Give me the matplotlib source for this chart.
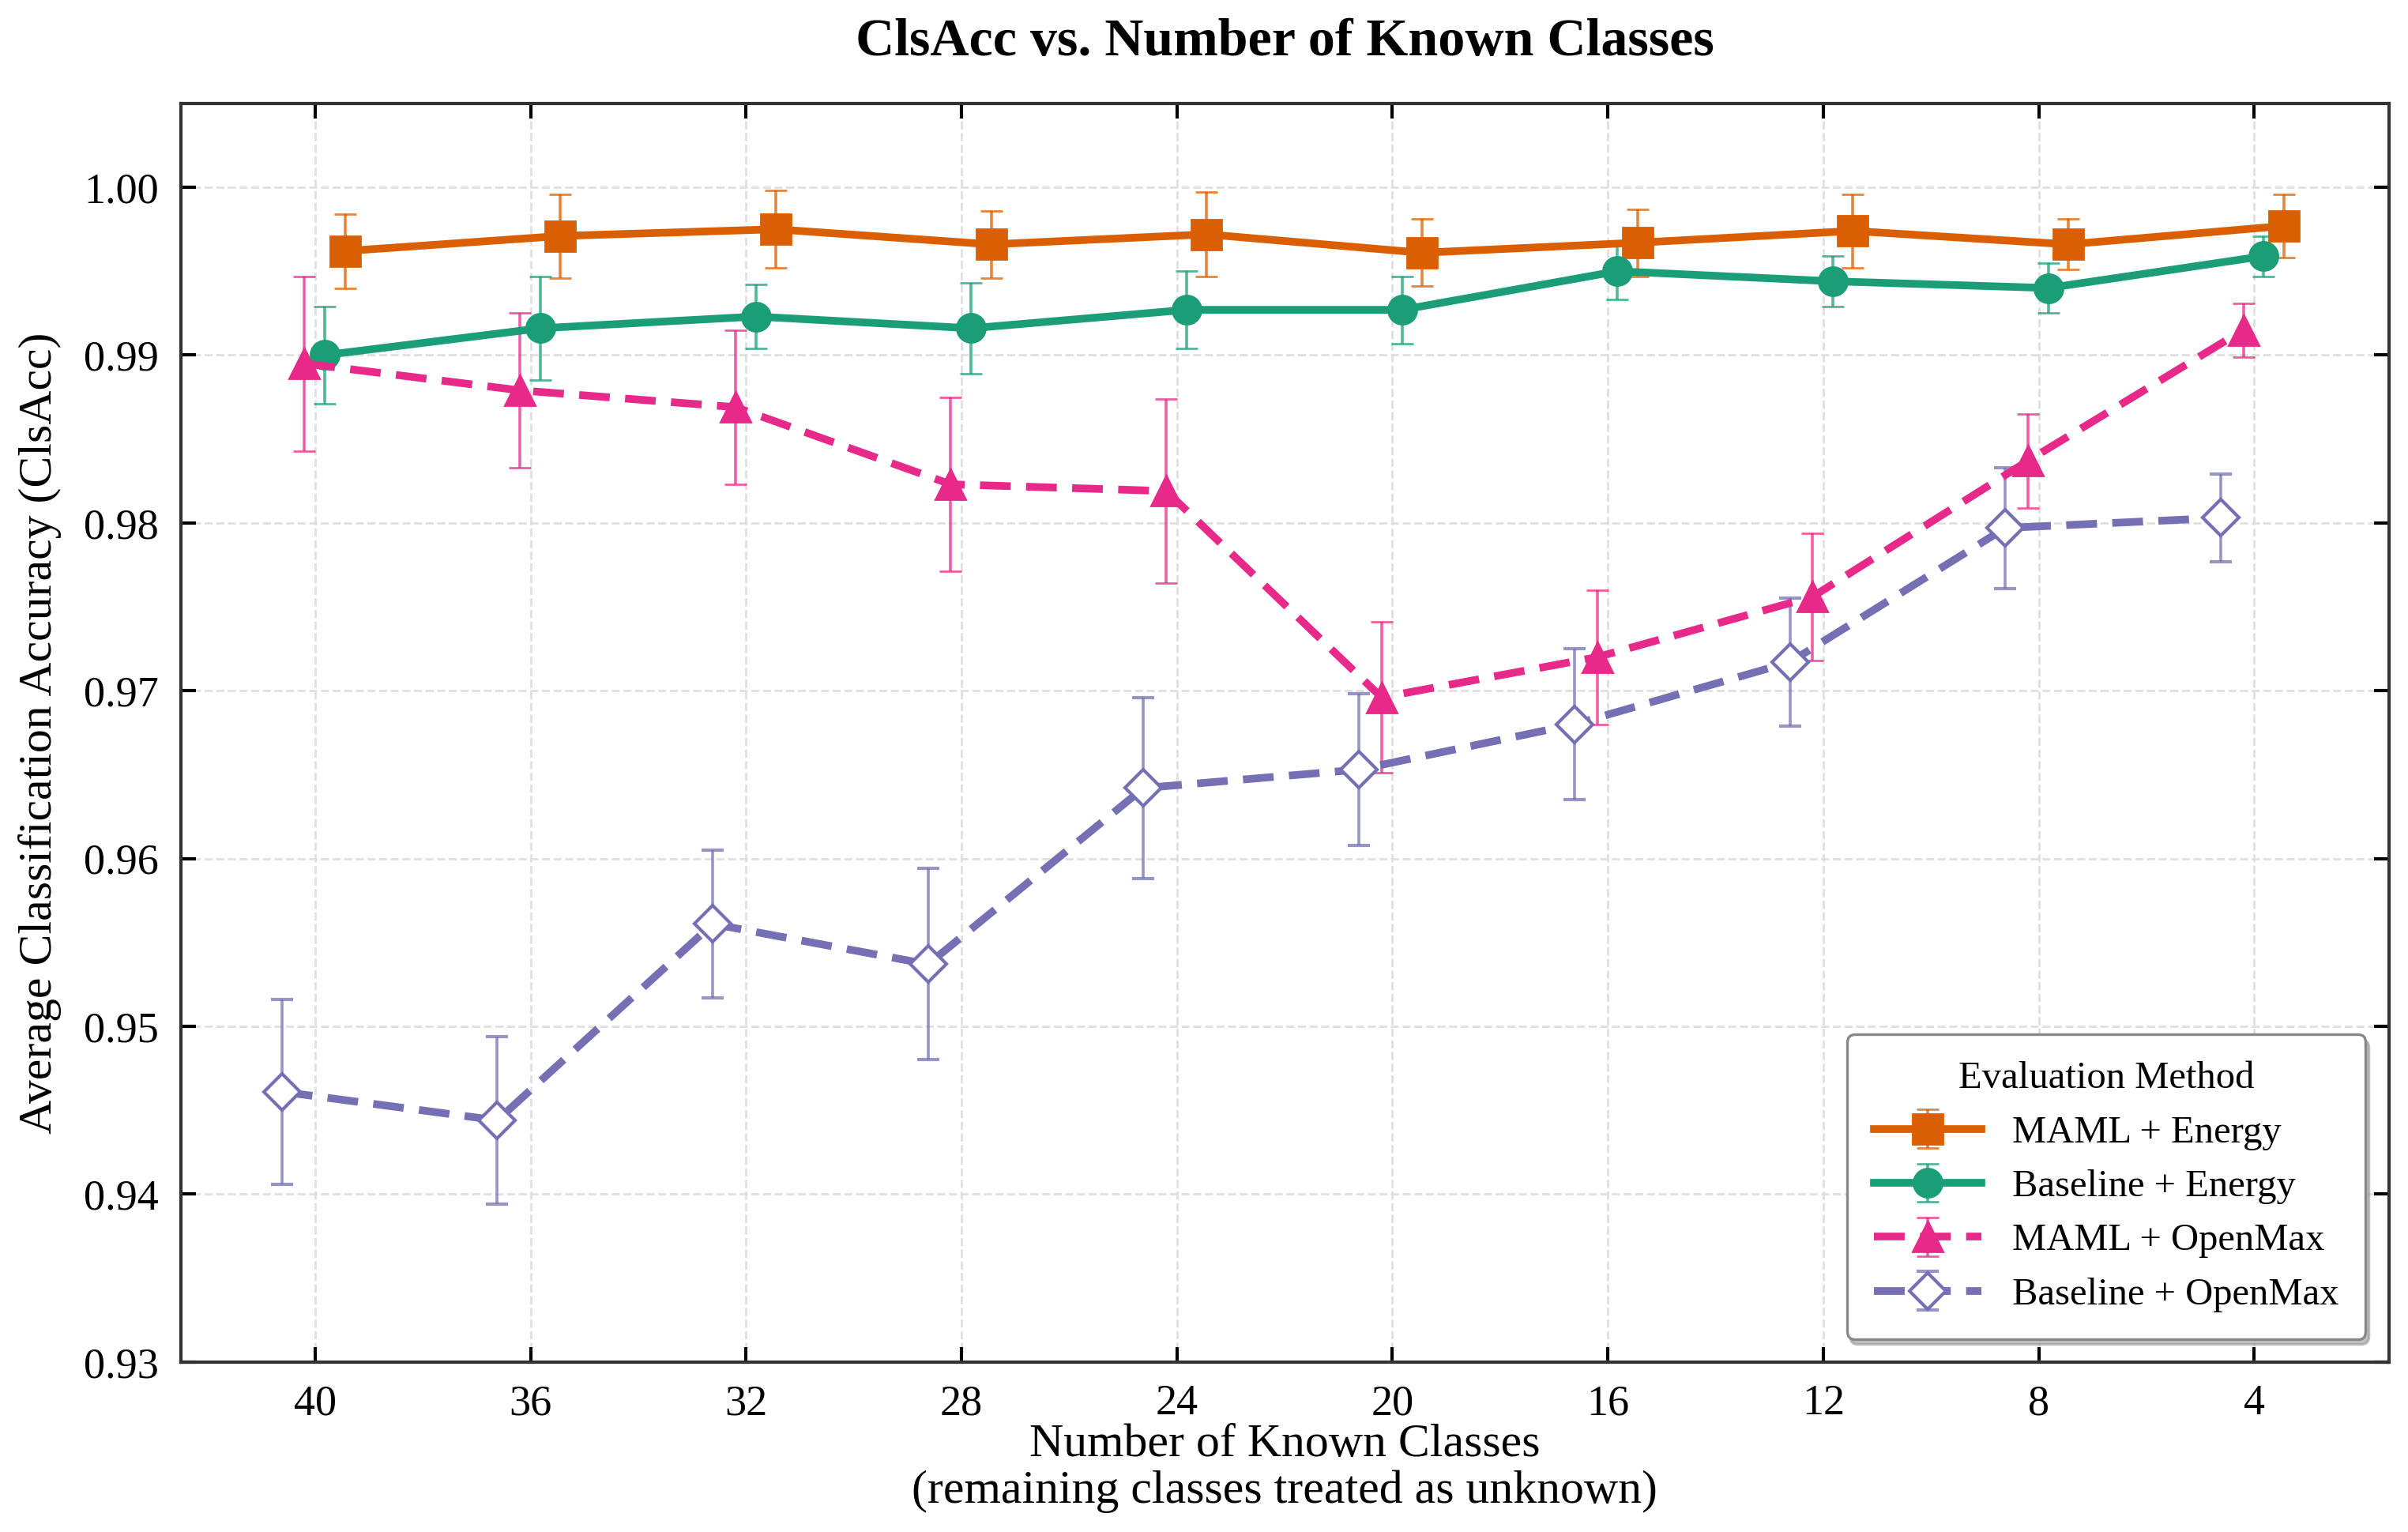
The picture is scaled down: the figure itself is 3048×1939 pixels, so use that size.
import matplotlib
matplotlib.use("Agg")
import matplotlib.pyplot as plt
import numpy as np

plt.rcParams["font.family"] = ["Liberation Serif", "DejaVu Serif"]

# known classes (x axis, reversed)
known = [40, 36, 32, 28, 24, 20, 16, 12, 8, 4]

# mean ClsAcc and std per method
maml_energy = [0.9962, 0.9971, 0.9975, 0.9966, 0.9972, 0.9961, 0.9967, 0.9974, 0.9966, 0.9977]
maml_energy_err = [0.0022, 0.0025, 0.0023, 0.0020, 0.0025, 0.0020, 0.0020, 0.0022, 0.0015, 0.0019]

base_energy = [0.9900, 0.9916, 0.9923, 0.9916, 0.9927, 0.9927, 0.9950, 0.9944, 0.9940, 0.9959]
base_energy_err = [0.0029, 0.0031, 0.0019, 0.0027, 0.0023, 0.0020, 0.0017, 0.0015, 0.0015, 0.0012]

maml_openmax = [0.9895, 0.9879, 0.9869, 0.9823, 0.9819, 0.9696, 0.9720, 0.9756, 0.9837, 0.9915]
maml_openmax_err = [0.0052, 0.0046, 0.0046, 0.0052, 0.0055, 0.0045, 0.0040, 0.0038, 0.0028, 0.0016]

base_openmax = [0.9461, 0.9444, 0.9561, 0.9537, 0.9642, 0.9653, 0.9680, 0.9717, 0.9797, 0.9803]
base_openmax_err = [0.0055, 0.0050, 0.0044, 0.0057, 0.0054, 0.0045, 0.0045, 0.0038, 0.0036, 0.0026]

fig = plt.figure(figsize=(15.24, 9.695), dpi=200)
ax = fig.add_axes([0.075, 0.111, 0.917, 0.8215])

x = np.array(known, dtype=float)

series = [
    ("MAML + Energy", maml_energy, maml_energy_err, "#d95f02", "s", "-", -0.55, 14, True),
    ("Baseline + Energy", base_energy, base_energy_err, "#1b9e77", "o", "-", -0.18, 13, True),
    ("MAML + OpenMax", maml_openmax, maml_openmax_err, "#e7298a", "^", "--", 0.2, 14, True),
    ("Baseline + OpenMax", base_openmax, base_openmax_err, "#7570b3", "D", "--", 0.62, 11.5, False),
]

for label, vals, errs, col, mk, ls, off, ms, filled in series:
    ax.errorbar(x + off, vals, yerr=errs, color=col, ecolor=col, linestyle=ls,
                linewidth=3.5, marker=mk, markersize=ms,
                markerfacecolor=col if filled else "white",
                markeredgecolor=col, markeredgewidth=1.5 if not filled else 1.0,
                elinewidth=1.3, capsize=5, capthick=1.8,
                dashes=(4, 2) if ls == "--" else (None, None),
                label=label, zorder=3)

# fade error bars a bit
for c in ax.containers:
    for part in list(c[1]) + list(c[2]):
        part.set_alpha(0.75)

ax.set_xlim(42.5, 1.5)
ax.set_ylim(0.93, 1.005)
ax.set_xticks(known)
ax.set_yticks(np.arange(0.93, 1.0001, 0.01))
ax.set_yticklabels([f"{v:.2f}" for v in np.arange(0.93, 1.0001, 0.01)])

ax.tick_params(direction="in", top=True, right=True, length=7, width=1.5,
               labelsize=19.5, pad=10)
for s in ax.spines.values():
    s.set_linewidth(1.5)
    s.set_color("#333333")

ax.grid(True, linestyle="--", color="#dddddd", linewidth=1.0, alpha=0.9)
ax.set_axisbelow(True)

ax.set_xlabel("Number of Known Classes\n(remaining classes treated as unknown)",
              fontsize=21.5, linespacing=1.1, labelpad=0)
ax.set_ylabel("Average Classification Accuracy (ClsAcc)", fontsize=21.5, labelpad=10)
ax.set_title("ClsAcc vs. Number of Known Classes", fontsize=24.5,
             fontweight="bold", pad=22)

leg = ax.legend(title="Evaluation Method", loc="lower right", fontsize=17.5,
                title_fontsize=17.5, frameon=True, fancybox=True,
                shadow={"ox": 1.5, "oy": -2.5, "color": "#999999", "alpha": 0.6},
                handlelength=2.8, borderpad=0.7, labelspacing=0.5,
                borderaxespad=0.6)
leg.get_frame().set_edgecolor("#888888")
leg.get_frame().set_linewidth(1.2)

fig.savefig("out.png", dpi=200)
